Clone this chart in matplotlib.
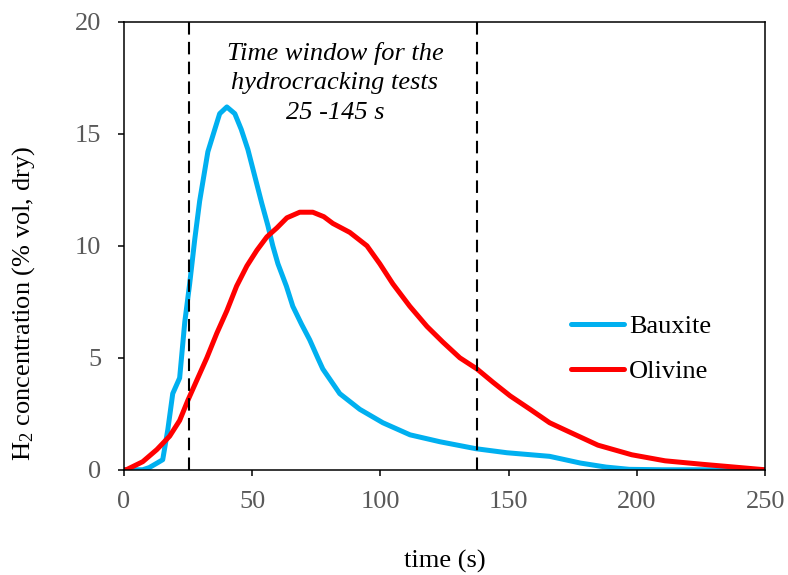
import matplotlib
matplotlib.use('Agg')
import matplotlib.pyplot as plt

plt.rcParams['font.family'] = ['Liberation Serif', 'DejaVu Serif']
plt.rcParams['mathtext.default'] = 'regular'

# H2 concentration vs time
bauxite_t = [0, 5, 7.4, 10, 13, 15.2, 17.2, 19.1, 21.8, 23.8, 25.7, 27.7, 29.6,
             32.8, 35.5, 37.4, 40.2, 43.3, 45.8, 48.4, 51.1, 53.8, 56.2, 58.1,
             60.1, 63.4, 65.9, 69.3, 72.5, 75.6, 77.6, 84.2, 92, 101, 111.6,
             123.3, 137.3, 149.4, 166, 178, 188, 197, 210, 250]
bauxite_h2 = [0, 0, 0, 0.1, 0.3, 0.45, 1.8, 3.4, 4.1, 6.6, 8.3, 10.3, 12.0,
              14.2, 15.2, 15.9, 16.2, 15.9, 15.2, 14.3, 13.1, 11.9, 10.9, 10.0,
              9.2, 8.2, 7.3, 6.5, 5.8, 5.0, 4.5, 3.4, 2.7, 2.1, 1.56,
              1.25, 0.94, 0.76, 0.6, 0.3, 0.12, 0.02, 0, 0]

olivine_t = [0, 1, 7.4, 12.9, 17.9, 21.8, 25, 28.5, 32.4, 36.3, 40.2, 44, 48,
             51.9, 55.8, 59.7, 63.6, 68.6, 73.7, 78, 81.5, 88.1, 94.8, 99.8,
             104.9, 111.5, 118.2, 124.4, 131, 137.7, 144, 150.6, 158.4, 166,
             171.6, 184.8, 198, 211, 225, 240, 250]
olivine_h2 = [0, 0, 0.36, 0.9, 1.5, 2.2, 3.1, 4.0, 5.0, 6.1, 7.1, 8.2, 9.1,
              9.8, 10.4, 10.8, 11.25, 11.5, 11.5, 11.3, 11.0, 10.6, 10.0, 9.2,
              8.3, 7.3, 6.4, 5.7, 5.0, 4.5, 3.9, 3.3, 2.7, 2.1,
              1.8, 1.1, 0.67, 0.4, 0.25, 0.1, 0]

window = [25.4, 137.7]

fig = plt.figure(figsize=(7.88, 5.75), dpi=100)
ax = fig.add_axes([0.157, 0.183, 0.814, 0.779])

ax.plot(bauxite_t, bauxite_h2, color='#00B0F0', lw=3.6, label='Bauxite',
        solid_joinstyle='round', solid_capstyle='round')
ax.plot(olivine_t, olivine_h2, color='#FF0000', lw=3.6, label='Olivine',
        solid_joinstyle='round', solid_capstyle='round')

for xv in window:
    ax.axvline(xv, color='black', lw=1.5, dashes=(6, 3.5))

ax.text(82.3, 19.12, 'Time window for the\nhydrocracking tests\n25 -145 s',
        ha='center', va='top', fontsize=19, style='italic', linespacing=1.45)

ax.set_xlim(0, 250)
ax.set_ylim(0, 20)
ax.set_xticks([0, 50, 100, 150, 200, 250])
ax.set_yticks([0, 5, 10, 15, 20])
ax.tick_params(direction='out', length=4, width=1.1, labelsize=19,
               labelcolor='#595959')
ax.tick_params(axis='x', pad=11)
ax.tick_params(axis='y', pad=12)
for s in ax.spines.values():
    s.set_linewidth(1.1)
    s.set_color('black')

ax.set_xlabel('time (s)', fontsize=19, labelpad=27)
ax.set_ylabel('H$_2$ concentration (% vol, dry)', fontsize=19)
ax.yaxis.set_label_coords(-0.135, 0.37)

ax.legend(loc='center left', bbox_to_anchor=(0.66, 0.27), frameon=False,
          fontsize=19, handlelength=2.0, handletextpad=0.2, labelspacing=0.8)

plt.savefig('out.png', dpi=100)
